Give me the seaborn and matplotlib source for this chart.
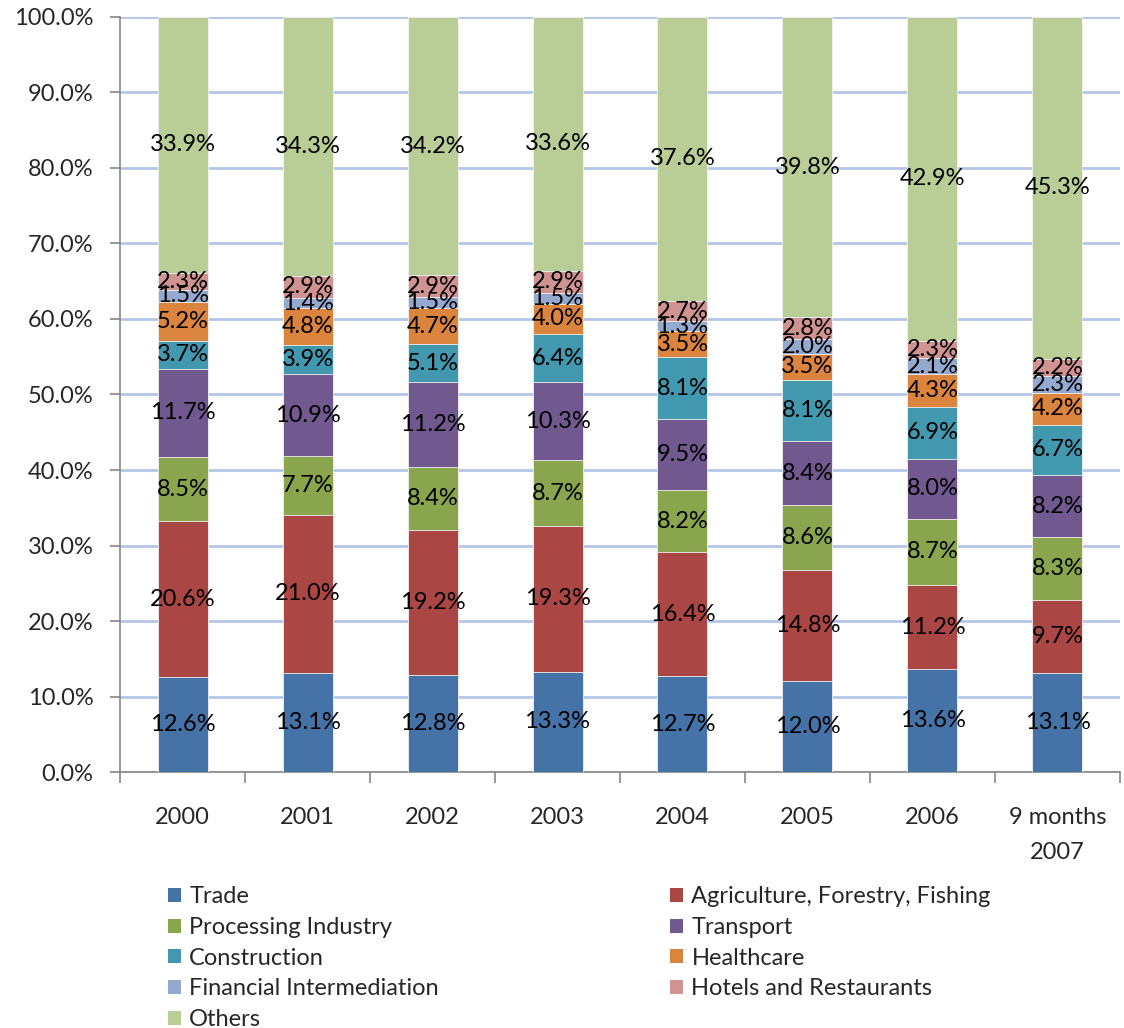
import numpy as np
import pandas as pd
import seaborn as sns
import matplotlib.pyplot as plt
import matplotlib.patches as mpatches
from matplotlib.ticker import FixedLocator, PercentFormatter

years = ["2000", "2001", "2002", "2003", "2004", "2005", "2006", "9 months\n2007"]

series_names = [
    "Trade",
    "Agriculture, Forestry, Fishing",
    "Processing Industry",
    "Transport",
    "Construction",
    "Healthcare",
    "Financial Intermediation",
    "Hotels and Restaurants",
    "Others",
]

trade = [12.6, 13.1, 12.8, 13.3, 12.7, 12.0, 13.6, 13.1]
agriculture = [20.6, 21.0, 19.2, 19.3, 16.4, 14.8, 11.2, 9.7]
processing = [8.5, 7.7, 8.4, 8.7, 8.2, 8.6, 8.7, 8.3]
transport = [11.7, 10.9, 11.2, 10.3, 9.5, 8.4, 8.0, 8.2]
construction = [3.7, 3.9, 5.1, 6.4, 8.1, 8.1, 6.9, 6.7]
healthcare = [5.2, 4.8, 4.7, 4.0, 3.5, 3.5, 4.3, 4.2]
financial = [1.5, 1.4, 1.5, 1.5, 1.3, 2.0, 2.1, 2.3]
hotels = [2.3, 2.9, 2.9, 2.9, 2.7, 2.8, 2.3, 2.2]
others = [33.9, 34.3, 34.2, 33.6, 37.6, 39.8, 42.9, 45.3]

colors = ["#4572A7", "#AA4643", "#89A54E", "#71588F", "#4198AF",
          "#DB843D", "#93A9CF", "#D19392", "#B9CD96"]

values = np.array([trade, agriculture, processing, transport, construction,
                   healthcare, financial, hotels, others])
tops = values.cumsum(axis=0)
bottoms = tops - values

font = "Lato"
fs = 17

sns.set_style("white")
plt.rcParams["font.family"] = [font, "DejaVu Sans"]

fig = plt.figure(figsize=(11.24, 10.28), dpi=100)
ax = fig.add_axes([0.1068, 0.249, 0.8896, 0.7345])

# draw cumulative bars from the top series down so each one covers the rest
for i in range(len(series_names) - 1, -1, -1):
    df = pd.DataFrame({"year": years, "cum": tops[i]})
    sns.barplot(data=df, x="year", y="cum", order=years, color=colors[i],
                width=0.4, saturation=1, edgecolor="#F2F2F2", linewidth=0.6,
                ax=ax, zorder=3)

for i in range(len(series_names)):
    for j in range(len(years)):
        ax.text(j, bottoms[i, j] + values[i, j] / 2, f"{values[i, j]:.1f}%",
                ha="center", va="center", fontsize=fs, color="black", zorder=5)

ax.set_xlim(-0.5, len(years) - 0.5)
ax.set_ylim(0, 100)
ax.set_yticks(np.arange(0, 101, 10))
ax.yaxis.set_major_formatter(PercentFormatter(decimals=1))
ax.grid(axis="y", color="#B3C6E7", linewidth=2, zorder=0)
ax.set_axisbelow(True)
ax.set_xlabel("")
ax.set_ylabel("")

for s in ["top", "right"]:
    ax.spines[s].set_visible(False)
for s in ["left", "bottom"]:
    ax.spines[s].set_color("#868686")
    ax.spines[s].set_linewidth(1.2)

ax.tick_params(axis="y", which="major", direction="out", length=7, width=1.2,
               color="#868686", left=True, labelsize=fs, pad=12)
ax.xaxis.set_minor_locator(FixedLocator(np.arange(-0.5, len(years), 1.0)))
ax.tick_params(axis="x", which="minor", direction="out", length=8, width=1.2,
               color="#868686", bottom=True)
ax.tick_params(axis="x", which="major", length=0, labelsize=fs, pad=25)

handles = [mpatches.Patch(facecolor=c, edgecolor="none") for c in colors]
order = [0, 2, 4, 6, 8, 1, 3, 5, 7]
fig.legend([handles[k] for k in order], [series_names[k] for k in order],
           ncol=2, loc="upper left", bbox_to_anchor=(0.141, 0.147),
           frameon=False, fontsize=fs, handlelength=0.55, handleheight=0.55,
           handletextpad=0.35, labelspacing=0.41, columnspacing=9.8,
           borderaxespad=0)

fig.canvas.draw()
for lbl in ax.get_xticklabels():
    lbl.set_linespacing(1.85)

fig.savefig("out.png", dpi=100)
